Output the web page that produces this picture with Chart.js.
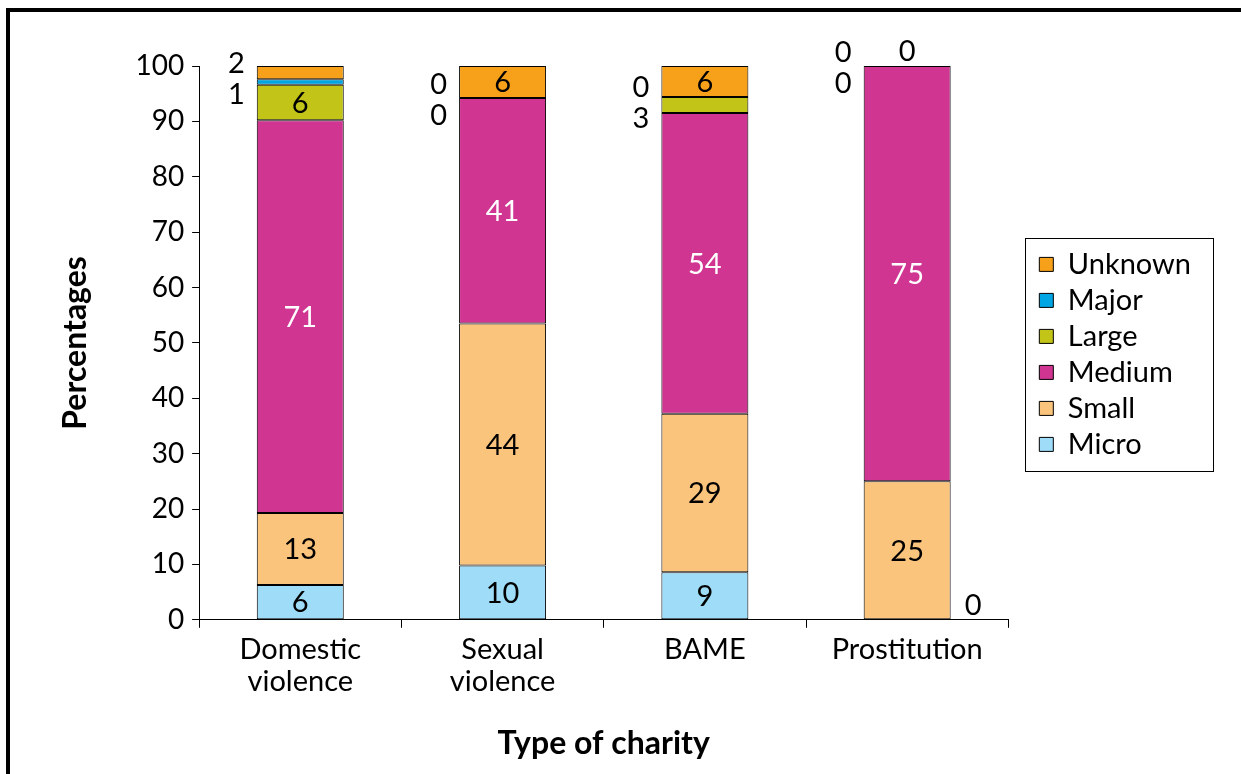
<!DOCTYPE html>
<html>
<head>
<meta charset="utf-8">
<script src="https://cdn.jsdelivr.net/npm/chart.js@4.4.0/dist/chart.umd.min.js"></script>
<style>
  html, body { margin: 0; padding: 0; background: #fff; overflow: hidden; }
  #frame { position: absolute; left: 6px; top: 8px; width: 1300px; height: 900px; border: 4px solid #000; }
  #wrap { position: absolute; left: 0; top: 0; width: 1241px; height: 774px; }
</style>
</head>
<body>
<div id="frame"></div>
<div id="wrap"><canvas id="barChart"></canvas></div>
<script>
const categories = [["Domestic", "violence"], ["Sexual", "violence"], "BAME", "Prostitution"];

// percentages per charity size
const micro = [6.3, 9.8, 8.6, 0];
const small = [13.0, 43.7, 28.6, 25];
const medium = [70.9, 40.7, 54.3, 75];
const large = [6.4, 0, 2.9, 0];
const major = [1.0, 0, 0, 0];
const unknown = [2.4, 5.8, 5.6, 0];

const FONT = "Lato";

// data labels: big segments get the number inside, tiny ones go beside the bar
const segmentLabels = {
  id: "segmentLabels",
  afterLayout(chart) {
    // nudge the legend block down a little, like the original
    chart.legend.top += 23;
  },
  afterDatasetsDraw(chart) {
    const ctx = chart.ctx;
    const n = chart.data.datasets.length;
    ctx.save();
    ctx.font = "29px " + FONT;
    ctx.textBaseline = "middle";
    chart.data.labels.forEach((_, j) => {
      const side = [];
      for (let i = 0; i < n; i++) {
        const ds = chart.data.datasets[i];
        const el = chart.getDatasetMeta(i).data[j];
        const v = ds.data[j];
        const txt = String(Math.round(v));
        const left = el.x - el.width / 2;
        const right = el.x + el.width / 2;
        if (v >= 4) {
          ctx.fillStyle = ds.labelColor || "#000";
          ctx.textAlign = "center";
          ctx.fillText(txt, el.x, (el.y + el.base) / 2 + 1);
        } else if (i === 0 && v === 0) {
          ctx.fillStyle = "#000";
          ctx.textAlign = "left";
          ctx.fillText(txt, right + 14, el.base - 14);
        } else if (i === n - 1 && v === 0) {
          ctx.fillStyle = "#000";
          ctx.textAlign = "center";
          ctx.fillText(txt, el.x, el.y - 14);
        } else {
          side.push({ txt, y: (el.y + el.base) / 2, left });
        }
      }
      if (!side.length) return;
      const mean = side.reduce((s, d) => s + d.y, 0) / side.length;
      side.reverse();
      side.forEach((d, k) => {
        ctx.fillStyle = "#000";
        ctx.textAlign = "right";
        ctx.fillText(d.txt, d.left - 12, mean + 2 + (k - (side.length - 1) / 2) * 31);
      });
    });
    ctx.restore();
  },
  afterDraw(chart) {
    const boxes = chart.legend.legendHitBoxes;
    if (!boxes || !boxes.length) return;
    const l = Math.min(...boxes.map(b => b.left)) - 14;
    const r = Math.max(...boxes.map(b => b.left + b.width)) + 22;
    const t = Math.min(...boxes.map(b => b.top)) - 12;
    const btm = Math.max(...boxes.map(b => b.top + b.height)) + 12;
    const ctx = chart.ctx;
    ctx.save();
    ctx.strokeStyle = "#000";
    ctx.lineWidth = 1;
    ctx.strokeRect(Math.round(l) + 0.5, Math.round(t) + 0.5, Math.round(r - l), Math.round(btm - t));
    ctx.restore();
  }
};

const barChart = document.querySelector("#barChart");

new Chart(barChart, {
  type: "bar",
  data: {
    labels: categories,
    datasets: [
      { label: "Micro", data: micro, backgroundColor: "#9edcf7" },
      { label: "Small", data: small, backgroundColor: "#fbc47c" },
      { label: "Medium", data: medium, backgroundColor: "#cf3591", labelColor: "#fff" },
      { label: "Large", data: large, backgroundColor: "#c3c418" },
      { label: "Major", data: major, backgroundColor: "#00a6e4" },
      { label: "Unknown", data: unknown, backgroundColor: "#f7a11a" },
    ].map(d => Object.assign(d, { borderColor: "#000", borderWidth: 1, borderSkipped: false })),
  },
  options: {
    responsive: true,
    maintainAspectRatio: false,
    animation: false,
    layout: { padding: { top: 66, left: 56, right: 40, bottom: 11 } },
    datasets: { bar: { barPercentage: 0.43, categoryPercentage: 1 } },
    plugins: {
      tooltip: { enabled: false },
      legend: {
        position: "right",
        fullSize: false,
        reverse: true,
        labels: {
          boxWidth: 14,
          boxHeight: 14,
          padding: 7,
          color: "#000",
          font: { family: FONT, size: 29 },
        },
      },
    },
    scales: {
      x: {
        stacked: true,
        border: { color: "#000", width: 1 },
        grid: { display: true, drawOnChartArea: false, offset: true, tickLength: 8, tickColor: "#000" },
        ticks: { color: "#000", font: { family: FONT, size: 29, lineHeight: 1.1 }, padding: 6, maxRotation: 0 },
        title: { display: true, text: "Type of charity", color: "#000", font: { family: FONT, size: 32, weight: "bold" }, padding: { top: 21, bottom: 0 } },
      },
      y: {
        stacked: true,
        min: 0,
        max: 100,
        border: { color: "#000", width: 1 },
        grid: { display: true, drawOnChartArea: false, tickLength: 7, tickColor: "#000" },
        ticks: { stepSize: 10, color: "#000", font: { family: FONT, size: 28 }, padding: 8 },
        title: { display: true, text: "Percentages", color: "#000", font: { family: FONT, size: 32, weight: "bold" }, padding: { top: 0, bottom: 33 } },
      },
      gap: {
        // empty spacer between the plot and the legend box
        position: "right",
        display: true,
        grid: { display: false },
        border: { display: false },
        ticks: { display: false },
        afterFit(scale) { scale.width = 24; },
      },
    },
  },
  plugins: [segmentLabels],
});
</script>
</body>
</html>
